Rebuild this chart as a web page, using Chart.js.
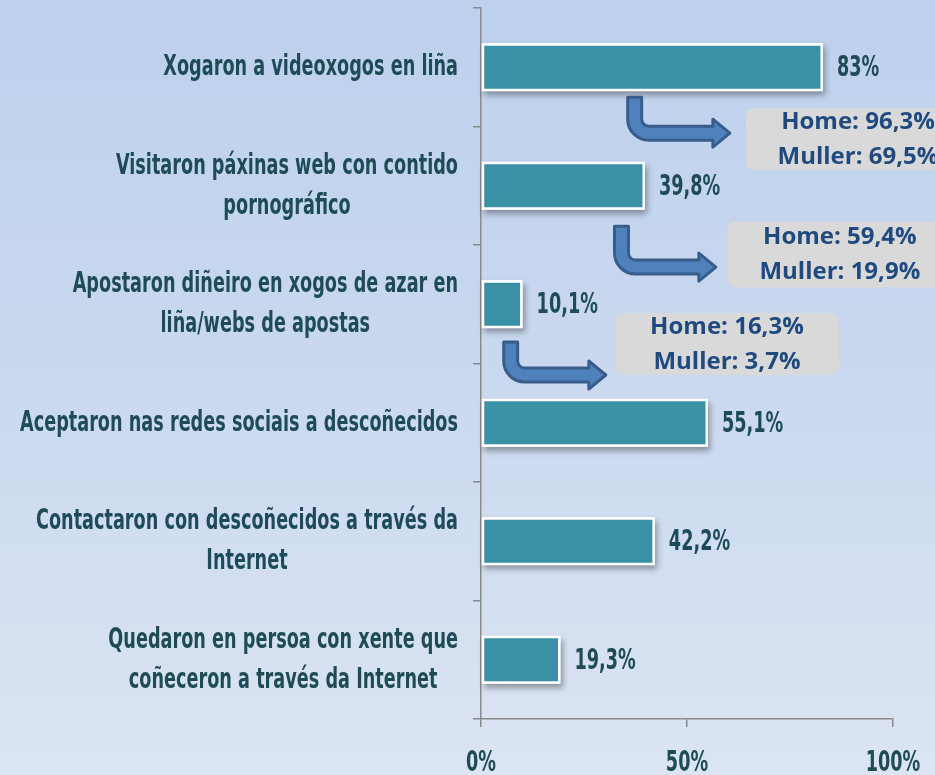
<!DOCTYPE html>
<html>
<head>
<meta charset="utf-8">
<script src="https://cdn.jsdelivr.net/npm/chart.js@4/dist/chart.umd.min.js"></script>
<style>
  html, body { margin: 0; padding: 0; }
  body {
    width: 935px; height: 775px; overflow: hidden;
    background: linear-gradient(to bottom, #bdd0ec 0%, #c9d8ef 45%, #dbe4f2 100%);
  }
  canvas { display: block; }
</style>
</head>
<body>
<canvas id="chart" width="935" height="775"></canvas>
<script>
// data
const categories = [
    ['Xogaron a videoxogos en liña'],
    ['Visitaron páxinas web con contido', 'pornográfico'],
    ['Apostaron diñeiro en xogos de azar en', 'liña/webs de apostas'],
    ['Aceptaron nas redes sociais a descoñecidos'],
    ['Contactaron con descoñecidos a través da', 'Internet'],
    ['Quedaron en persoa con xente que', 'coñeceron a través da Internet']
]
const totals = [83, 39.8, 10.1, 55.1, 42.2, 19.3]
const menValues = [96.3, 59.4, 16.3]     // Home
const womenValues = [69.5, 19.9, 3.7]    // Muller
const xTicks = [0, 50, 100]

const LABEL_FONT = '"Liberation Sans Narrow", "DejaVu Sans Condensed", sans-serif'
const TEXT_COLOR = '#1e4c56'
const pct = v => String(v).replace('.', ',') + '%'

// where the callouts sit (x in %, y in category index units)
const arrows = [
    { x: 37.3, top: 0.253, mid: 0.556, tip: 60.4 },
    { x: 34.1, top: 1.341, mid: 1.686, tip: 57.0 },
    { x: 7.2, top: 2.319, mid: 2.597, tip: 30.3 }
]
const boxes = [
    { x: 91.5, y: 0.607, w: 224, h: 62 },
    { x: 87.1, y: 1.581, w: 224, h: 66 },
    { x: 59.7, y: 2.336, w: 223, h: 62 }
]

let sx = 1        // horizontal squeeze for the narrow label font
const SY = 1.2    // vertical stretch, the original text is tall and narrow

function stretchText(ctx, text, x, y, align) {
    ctx.save()
    ctx.translate(x, y)
    ctx.scale(sx, SY)
    ctx.textAlign = align
    ctx.textBaseline = 'middle'
    ctx.fillText(text, 0, 0)
    ctx.restore()
}

function roundRect(ctx, x, y, w, h, r) {
    ctx.beginPath()
    ctx.moveTo(x + r, y)
    ctx.lineTo(x + w - r, y)
    ctx.quadraticCurveTo(x + w, y, x + w, y + r)
    ctx.lineTo(x + w, y + h - r)
    ctx.quadraticCurveTo(x + w, y + h, x + w - r, y + h)
    ctx.lineTo(x + r, y + h)
    ctx.quadraticCurveTo(x, y + h, x, y + h - r)
    ctx.lineTo(x, y + r)
    ctx.quadraticCurveTo(x, y, x + r, y)
    ctx.closePath()
}

function bentArrow(ctx, cx, yTop, cy, xTip) {
    const hw = 7, r = 7, R = r + 2 * hw, hh = 14, headLen = 17
    const xHead = xTip - headLen
    const ocx = cx + hw + r, ocy = cy - hw - r
    ctx.beginPath()
    ctx.moveTo(cx - hw, yTop)
    ctx.lineTo(cx + hw, yTop)
    ctx.lineTo(cx + hw, ocy)
    ctx.arc(ocx, ocy, r, Math.PI, Math.PI / 2, true)
    ctx.lineTo(xHead, cy - hw)
    ctx.lineTo(xHead, cy - hh)
    ctx.lineTo(xTip, cy)
    ctx.lineTo(xHead, cy + hh)
    ctx.lineTo(xHead, cy + hw)
    ctx.lineTo(ocx, cy + hw)
    ctx.arc(ocx, ocy, R, Math.PI / 2, Math.PI, false)
    ctx.closePath()
    ctx.fillStyle = '#4f81bd'
    ctx.fill()
    ctx.lineWidth = 3
    ctx.lineJoin = 'round'
    ctx.strokeStyle = '#385d8a'
    ctx.stroke()
}

const decorPlugin = {
    id: 'decor',
    beforeDatasetsDraw(chart) {
        const ctx = chart.ctx
        // fit the label font so the longest line is as wide as in the original (~438px)
        ctx.font = 'bold 23px ' + LABEL_FONT
        sx = 438 / ctx.measureText(categories[3][0]).width

        // soft shadow under each bar
        const meta = chart.getDatasetMeta(0)
        ctx.save()
        ctx.shadowColor = 'rgba(0,0,0,0.35)'
        ctx.shadowBlur = 6
        ctx.shadowOffsetX = 2
        ctx.shadowOffsetY = 4
        ctx.fillStyle = '#ffffff'
        meta.data.forEach(bar => {
            const p = bar.getProps(['x', 'y', 'base', 'height'], true)
            ctx.fillRect(p.base, p.y - p.height / 2, p.x - p.base, p.height)
        })
        ctx.restore()
    },
    afterDatasetsDraw(chart) {
        const ctx = chart.ctx
        const meta = chart.getDatasetMeta(0)
        ctx.save()
        ctx.font = 'bold 23px ' + LABEL_FONT
        ctx.fillStyle = TEXT_COLOR
        meta.data.forEach((bar, i) => {
            stretchText(ctx, pct(totals[i]), bar.x + 14, bar.y + 2, 'left')
        })
        ctx.restore()
    },
    afterDraw(chart) {
        const ctx = chart.ctx
        const xs = chart.scales.x, ys = chart.scales.y

        ctx.save()
        ctx.font = 'bold 23px ' + LABEL_FONT
        ctx.fillStyle = TEXT_COLOR
        // category labels: block right aligned, lines centred
        categories.forEach((lines, i) => {
            const yc = ys.getPixelForValue(i)
            const w = Math.max(...lines.map(l => ctx.measureText(l).width)) * sx
            const cxText = ys.right - 23 - w / 2
            lines.forEach((l, j) => {
                stretchText(ctx, l, cxText, yc + 1 + (j - (lines.length - 1) / 2) * 40, 'center')
            })
        })
        // x tick labels
        xs.ticks.forEach(t => {
            stretchText(ctx, t.value + '%', xs.getPixelForValue(t.value), 764, 'center')
        })
        ctx.restore()

        // arrows
        ctx.save()
        arrows.forEach(a => {
            bentArrow(ctx, xs.getPixelForValue(a.x), ys.getPixelForValue(a.top),
                ys.getPixelForValue(a.mid), xs.getPixelForValue(a.tip))
        })
        ctx.restore()

        // gender boxes
        ctx.save()
        boxes.forEach((b, i) => {
            const bx = xs.getPixelForValue(b.x), by = ys.getPixelForValue(b.y)
            roundRect(ctx, bx - b.w / 2, by - b.h / 2, b.w, b.h, 9)
            ctx.fillStyle = '#d9d9d9'
            ctx.fill()
            ctx.fillStyle = '#1f4a80'
            ctx.font = 'bold 24px "Open Sans", "Noto Sans", sans-serif'
            ctx.textAlign = 'center'
            ctx.textBaseline = 'middle'
            ctx.fillText('Home: ' + pct(menValues[i]), bx, by - 17)
            ctx.fillText('Muller: ' + pct(womenValues[i]), bx, by + 18)
        })
        ctx.restore()
    }
}

new Chart(document.getElementById('chart'), {
    type: 'bar',
    data: {
        labels: categories.map(c => c.join(' ')),
        datasets: [{
            data: totals,
            backgroundColor: '#3a91a5',
            borderColor: '#ffffff',
            borderWidth: 2.5,
            borderSkipped: false,
            categoryPercentage: 1,
            barPercentage: 0.405
        }]
    },
    options: {
        indexAxis: 'y',
        responsive: false,
        devicePixelRatio: 1,
        animation: false,
        layout: { padding: { top: 8, right: 42, left: 0, bottom: 0 } },
        plugins: { legend: { display: false }, tooltip: { enabled: false } },
        scales: {
            x: {
                min: 0,
                max: 100,
                afterBuildTicks: s => { s.ticks = xTicks.map(v => ({ value: v })) },
                afterFit: s => { s.height = 56; s.paddingLeft = 0; s.paddingRight = 0 },
                ticks: { display: false },
                grid: { drawOnChartArea: false, drawTicks: true, tickLength: 8, color: '#8a8a8a', lineWidth: 1.5 },
                border: { color: '#8a8a8a', width: 1.5 }
            },
            y: {
                afterFit: s => { s.width = 481; s.paddingTop = 0; s.paddingBottom = 0 },
                ticks: { display: false },
                grid: { drawOnChartArea: false, drawTicks: true, tickLength: 8, color: '#8a8a8a', lineWidth: 1.5 },
                border: { color: '#8a8a8a', width: 1.5 }
            }
        }
    },
    plugins: [decorPlugin]
})
</script>
</body>
</html>
